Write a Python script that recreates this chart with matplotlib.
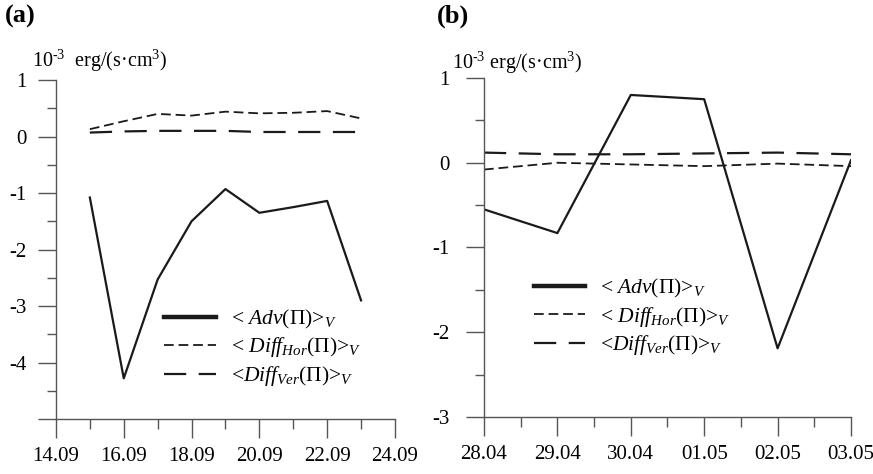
import matplotlib
matplotlib.use("Agg")
import matplotlib.pyplot as plt
from matplotlib.ticker import MultipleLocator, FixedLocator

plt.rcParams['font.family'] = ['Liberation Serif', 'DejaVu Serif']
plt.rcParams['mathtext.fontset'] = 'custom'
plt.rcParams['mathtext.rm'] = 'Liberation Serif'
plt.rcParams['mathtext.it'] = 'Liberation Serif:italic'
plt.rcParams['mathtext.bf'] = 'Liberation Serif:bold'
plt.rcParams['lines.scale_dashes'] = False

# panel (a): September, day of month
days_a = [15, 16, 17, 18, 19, 20, 21, 22, 23]
adv_a = [-1.08, -4.28, -2.53, -1.50, -0.93, -1.35, -1.25, -1.14, -2.90]
hor_a = [0.13, 0.27, 0.40, 0.37, 0.44, 0.41, 0.42, 0.45, 0.32]
ver_a = [0.07, 0.09, 0.10, 0.10, 0.10, 0.08, 0.08, 0.08, 0.08]
ticks_a = [14, 16, 18, 20, 22, 24]
labels_a = ['14.09', '16.09', '18.09', '20.09', '22.09', '24.09']

# panel (b): 28.04 .. 03.05
days_b = [0, 1, 2, 3, 4, 5]
adv_b = [-0.55, -0.83, 0.80, 0.75, -2.19, 0.03]
hor_b = [-0.08, 0.00, -0.02, -0.04, -0.01, -0.04]
ver_b = [0.12, 0.10, 0.10, 0.11, 0.12, 0.10]
labels_b = ['28.04', '29.04', '30.04', '01.05', '02.05', '03.05']

LINE = '#1a1a1a'
AXC = '#555555'

leg_labels = [r'< $Adv$(Π)>$_{V}$',
              r'< $Diff_{Hor}$(Π)>$_{V}$',
              r'<$Diff_{Ver}$(Π)>$_{V}$']

fig = plt.figure(figsize=(8.73, 4.74), dpi=100)
ax_a = fig.add_axes([0.0641, 0.1160, 0.3883, 0.7152])
ax_b = fig.add_axes([0.5544, 0.1203, 0.4204, 0.7151])


def style(ax, xlim, ylim, pad_y):
    ax.set_xlim(*xlim)
    ax.set_ylim(*ylim)
    for s in ['top', 'right']:
        ax.spines[s].set_visible(False)
    for s in ['left', 'bottom']:
        ax.spines[s].set_color(AXC)
        ax.spines[s].set_linewidth(1.0)
    ax.yaxis.set_major_locator(MultipleLocator(1))
    ax.yaxis.set_minor_locator(MultipleLocator(0.5))
    ax.tick_params(axis='y', which='major', direction='out', length=13, width=1.0,
                   color=AXC, labelsize=15, pad=pad_y)
    ax.tick_params(axis='y', which='minor', direction='out', length=6.5, width=1.0, color=AXC)
    ax.tick_params(axis='x', which='major', direction='out', length=14, width=1.0,
                   color=AXC, labelsize=15, pad=6)
    ax.tick_params(axis='x', which='minor', direction='out', length=7, width=1.0, color=AXC)
    ax.patch.set_visible(False)


def draw(ax, x, adv, hor, ver, legend_xy):
    ax.plot(x, adv, color=LINE, lw=1.6, label=leg_labels[0])
    ax.plot(x, hor, color=LINE, lw=1.3, dashes=(7, 3.5), label=leg_labels[1])
    ax.plot(x, ver, color=LINE, lw=1.6, dashes=(16, 9), label=leg_labels[2])
    leg = ax.legend(loc='center left', bbox_to_anchor=legend_xy, frameon=False,
                    fontsize=15.5, handlelength=2.4, handletextpad=0.7,
                    labelspacing=0.22, borderpad=0, borderaxespad=0)
    leg.get_lines()[0].set_linewidth(3.2)


# (a)
style(ax_a, (14, 24), (-5, 1), 8)
ax_a.xaxis.set_major_locator(FixedLocator(ticks_a))
ax_a.set_xticklabels(labels_a)
ax_a.xaxis.set_minor_locator(MultipleLocator(1))
ax_a.set_yticks([-5, -4, -3, -2, -1, 0, 1])
ax_a.set_yticklabels(['', '-4', '-3', '-2', '-1', '0', '1'])
draw(ax_a, days_a, adv_a, hor_a, ver_a, (0.32, 0.21))

# (b)
style(ax_b, (0, 5), (-3, 1), 12)
ax_b.set_xticks(days_b)
ax_b.set_xticklabels(labels_b)
ax_b.xaxis.set_minor_locator(MultipleLocator(0.5))
ax_b.set_yticks([-3, -2, -1, 0, 1])
ax_b.set_yticklabels(['-3', '-2', '-1', '0', '1'])
draw(ax_b, days_b, adv_b, hor_b, ver_b, (0.135, 0.295))

# panel letters and units
fig.text(0.006, 0.966, '(a)', fontsize=19, fontweight='bold', va='center', ha='left')
fig.text(0.500, 0.966, '(b)', fontsize=19, fontweight='bold', va='center', ha='left')
fig.text(0.037, 0.872, r'10$^{\text{-3}}$  erg/(s·cm$^{3}$)', fontsize=14.5, va='center', ha='left')
fig.text(0.518, 0.868, r'10$^{\text{-3}}$ erg/(s·cm$^{3}$)', fontsize=14.5, va='center', ha='left')

fig.savefig('out.png', dpi=100)
